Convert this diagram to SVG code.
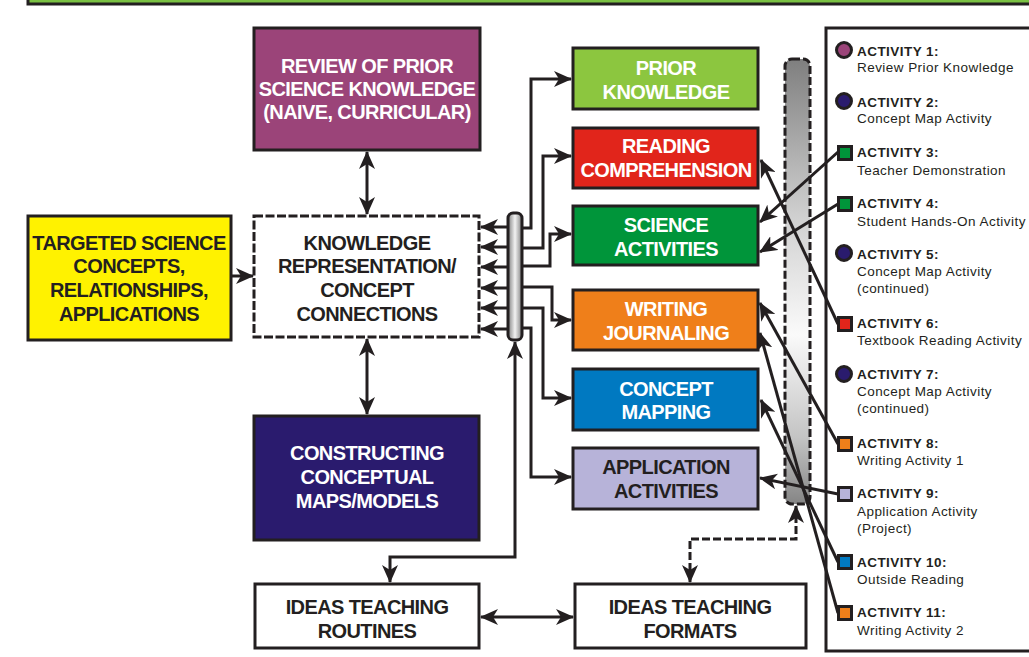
<svg xmlns="http://www.w3.org/2000/svg" width="1029" height="657" viewBox="0 0 1029 657">
<defs>
<style>
.box{stroke:#231f20;stroke-width:3}
.t{font-family:"Liberation Sans",Arial,sans-serif;font-weight:bold;font-size:20px;letter-spacing:-0.6px;text-anchor:middle}
.w{fill:#ffffff}
.k{fill:#231f20}
.ln{fill:none;stroke:#231f20;stroke-width:3}
.dash{stroke-dasharray:8 3}
.ah{marker-end:url(#ah)}
.ah2{marker-start:url(#ah);marker-end:url(#ah)}
.at{font-family:"Liberation Sans",Arial,sans-serif;font-size:13.5px;letter-spacing:0.45px;fill:#231f20}
.ab{font-weight:bold}
.mk{stroke:#231f20;stroke-width:3}
</style>
<marker id="ah" viewBox="0 0 18 16" refX="17" refY="8" markerWidth="18" markerHeight="16" markerUnits="userSpaceOnUse" orient="auto-start-reverse">
<path d="M0,0 L18,8 L0,16 L5,8 z" fill="#231f20"/>
</marker>
<linearGradient id="gv" x1="0" y1="0" x2="0" y2="1">
<stop offset="0" stop-color="#7f7f7f"/>
<stop offset="0.35" stop-color="#cfcfcf"/>
<stop offset="0.62" stop-color="#fafafa"/>
<stop offset="0.85" stop-color="#c4c4c4"/>
<stop offset="1" stop-color="#858585"/>
</linearGradient>
<linearGradient id="gh" x1="0" y1="0" x2="1" y2="0">
<stop offset="0" stop-color="#808080"/>
<stop offset="0.5" stop-color="#f2f2f2"/>
<stop offset="1" stop-color="#808080"/>
</linearGradient>
</defs>
<rect width="1029" height="657" fill="#ffffff"/>
<rect x="28" y="-12" width="1010" height="16" fill="#7ac143" class="box"/>

<g id="review">
<rect x="254" y="28" width="226" height="122" fill="#9b4479" class="box"/>
<text class="t w" x="367" y="73">REVIEW OF PRIOR</text>
<text class="t w" x="367" y="96">SCIENCE KNOWLEDGE</text>
<text class="t w" x="367" y="119">(NAIVE, CURRICULAR)</text>
</g>
<g id="targeted">
<rect x="28" y="216" width="203" height="124" fill="#fff200" class="box"/>
<text class="t k" x="129" y="250">TARGETED SCIENCE</text>
<text class="t k" x="129" y="273">CONCEPTS,</text>
<text class="t k" x="129" y="297">RELATIONSHIPS,</text>
<text class="t k" x="129" y="321">APPLICATIONS</text>
</g>
<g id="knowledge">
<rect x="254" y="216" width="225" height="121" fill="#ffffff" class="box" stroke-dasharray="9 2.5"/>
<text class="t k" x="367" y="250">KNOWLEDGE</text>
<text class="t k" x="367" y="273">REPRESENTATION/</text>
<text class="t k" x="367" y="297">CONCEPT</text>
<text class="t k" x="367" y="321">CONNECTIONS</text>
</g>
<g id="constructing">
<rect x="254" y="416" width="225" height="124" fill="#2a1b6e" class="box"/>
<text class="t w" x="367" y="460">CONSTRUCTING</text>
<text class="t w" x="367" y="484">CONCEPTUAL</text>
<text class="t w" x="367" y="508">MAPS/MODELS</text>
</g>
<g id="prior">
<rect x="573" y="48" width="185" height="61" fill="#8cc63f" class="box"/>
<text class="t w" x="666" y="75">PRIOR</text>
<text class="t w" x="666" y="99">KNOWLEDGE</text>
</g>
<g id="reading">
<rect x="573" y="128" width="185" height="60" fill="#e1251b" class="box"/>
<text class="t w" x="666" y="153">READING</text>
<text class="t w" x="666" y="177">COMPREHENSION</text>
</g>
<g id="science">
<rect x="573" y="206" width="185" height="59" fill="#00953a" class="box"/>
<text class="t w" x="666" y="232">SCIENCE</text>
<text class="t w" x="666" y="256">ACTIVITIES</text>
</g>
<g id="writing">
<rect x="573" y="290" width="185" height="60" fill="#ef7f1a" class="box"/>
<text class="t w" x="666" y="316">WRITING</text>
<text class="t w" x="666" y="340">JOURNALING</text>
</g>
<g id="mapping">
<rect x="573" y="369" width="185" height="61" fill="#0079c1" class="box"/>
<text class="t w" x="666" y="396">CONCEPT</text>
<text class="t w" x="666" y="419">MAPPING</text>
</g>
<g id="application">
<rect x="573" y="448" width="185" height="61" fill="#b7b3d9" class="box"/>
<text class="t k" x="666" y="474">APPLICATION</text>
<text class="t k" x="666" y="498">ACTIVITIES</text>
</g>
<g id="routines">
<rect x="255" y="584" width="224" height="64" fill="#ffffff" class="box"/>
<text class="t k" x="367" y="614">IDEAS TEACHING</text>
<text class="t k" x="367" y="638">ROUTINES</text>
</g>
<g id="formats">
<rect x="575" y="584" width="231" height="64" fill="#ffffff" class="box"/>
<text class="t k" x="690" y="614">IDEAS TEACHING</text>
<text class="t k" x="690" y="638">FORMATS</text>
</g>

<g id="hub-small">
<rect x="508" y="213" width="14" height="127" rx="5" fill="url(#gh)" class="box"/>
</g>
<g id="hub-large">
<rect x="785" y="59" width="25" height="445" rx="7" fill="url(#gv)" stroke="#231f20" stroke-width="3" stroke-dasharray="8 3"/>
</g>

<g id="connectors">
<line class="ln ah" x1="231" y1="276" x2="253" y2="276"/>
<line class="ln ah2" x1="367" y1="152" x2="367" y2="214"/>
<line class="ln ah2" x1="367" y1="339" x2="367" y2="414"/>
<line class="ln ah" x1="507" y1="227" x2="481" y2="227"/>
<line class="ln ah" x1="507" y1="247" x2="481" y2="247"/>
<line class="ln ah" x1="507" y1="267" x2="481" y2="267"/>
<line class="ln ah" x1="507" y1="288" x2="481" y2="288"/>
<line class="ln ah" x1="507" y1="308" x2="481" y2="308"/>
<line class="ln ah" x1="507" y1="329" x2="481" y2="329"/>
<path class="ln ah" d="M522,228 H531 V79 H571"/>
<path class="ln ah" d="M522,248 H543 V156 H571"/>
<path class="ln ah" d="M522,266 H550 V234 H571"/>
<path class="ln ah" d="M522,287 H552 V320 H571"/>
<path class="ln ah" d="M522,308 H543 V398 H571"/>
<path class="ln ah" d="M522,328 H531 V477 H571"/>
<path class="ln ah2" d="M515,342 V557 H390 V582"/>
<line class="ln ah2" x1="481" y1="617" x2="573" y2="617"/>
<path class="ln dash ah2" d="M690,582 V539 H796 V506"/>
<line class="ln ah" x1="838" y1="152" x2="760" y2="222"/>
<line class="ln ah" x1="838" y1="204" x2="760" y2="252"/>
<line class="ln ah" x1="838" y1="324" x2="761" y2="160"/>
<line class="ln ah" x1="838" y1="444" x2="760" y2="303"/>
<line class="ln ah" x1="838" y1="494" x2="760" y2="478"/>
<line class="ln ah" x1="838" y1="562" x2="761" y2="400"/>
<line class="ln ah" x1="838" y1="613" x2="760" y2="333"/>
</g>

<g id="activities">
<rect x="826" y="28" width="212" height="623" fill="none" class="box"/>
<g id="act1"><circle cx="844" cy="50" r="7.5" fill="#9b4479" class="mk"/><text class="at ab" x="857" y="56">ACTIVITY 1:</text><text class="at" x="857" y="72">Review Prior Knowledge</text></g>
<g id="act2"><circle cx="844" cy="101" r="7.5" fill="#2a1b6e" class="mk"/><text class="at ab" x="857" y="107">ACTIVITY 2:</text><text class="at" x="857" y="123">Concept Map Activity</text></g>
<g id="act3"><rect x="838.5" y="146.5" width="13" height="13" fill="#00953a" class="mk"/><text class="at ab" x="857" y="157">ACTIVITY 3:</text><text class="at" x="857" y="175">Teacher Demonstration</text></g>
<g id="act4"><rect x="838.5" y="197.5" width="13" height="13" fill="#00953a" class="mk"/><text class="at ab" x="857" y="208">ACTIVITY 4:</text><text class="at" x="857" y="226">Student Hands-On Activity</text></g>
<g id="act5"><circle cx="844" cy="253" r="7.5" fill="#2a1b6e" class="mk"/><text class="at ab" x="857" y="259">ACTIVITY 5:</text><text class="at" x="857" y="276">Concept Map Activity</text><text class="at" x="857" y="293">(continued)</text></g>
<g id="act6"><rect x="838.5" y="317.5" width="13" height="13" fill="#e1251b" class="mk"/><text class="at ab" x="857" y="328">ACTIVITY 6:</text><text class="at" x="857" y="345">Textbook Reading Activity</text></g>
<g id="act7"><circle cx="844" cy="374" r="7.5" fill="#2a1b6e" class="mk"/><text class="at ab" x="857" y="379">ACTIVITY 7:</text><text class="at" x="857" y="396">Concept Map Activity</text><text class="at" x="857" y="413">(continued)</text></g>
<g id="act8"><rect x="838.5" y="437.5" width="13" height="13" fill="#ef7f1a" class="mk"/><text class="at ab" x="857" y="448">ACTIVITY 8:</text><text class="at" x="857" y="465">Writing Activity 1</text></g>
<g id="act9"><rect x="838.5" y="487.5" width="13" height="13" fill="#b7b3d9" class="mk"/><text class="at ab" x="857" y="498">ACTIVITY 9:</text><text class="at" x="857" y="516">Application Activity</text><text class="at" x="857" y="533">(Project)</text></g>
<g id="act10"><rect x="838.5" y="555.5" width="13" height="13" fill="#0079c1" class="mk"/><text class="at ab" x="857" y="567">ACTIVITY 10:</text><text class="at" x="857" y="584">Outside Reading</text></g>
<g id="act11"><rect x="838.5" y="606.5" width="13" height="13" fill="#ef7f1a" class="mk"/><text class="at ab" x="857" y="617">ACTIVITY 11:</text><text class="at" x="857" y="635">Writing Activity 2</text></g>
</g>
</svg>
